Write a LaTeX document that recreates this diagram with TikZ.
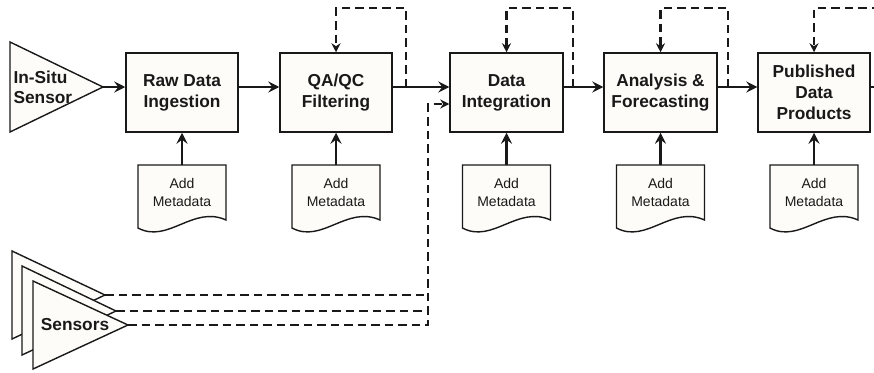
\documentclass[tikz,border=0pt]{standalone}
\usepackage{fontspec}
\setmainfont{Liberation Sans}
\usetikzlibrary{arrows.meta,calc}
\definecolor{paper}{RGB}{253,252,248}
\definecolor{ink}{RGB}{25,25,25}
\tikzset{
	stepbox/.style={draw=ink, fill=paper, line width=1.5pt, minimum width=112pt, minimum height=79pt, align=center, text=ink, font=\fontsize{17.3}{21}\selectfont\bfseries},
	bigtext/.style={text=ink, font=\fontsize{17.3}{20}\selectfont\bfseries},
	doctext/.style={text=ink, align=center, font=\fontsize{14}{18}\selectfont},
	docline/.style={draw=ink, fill=paper, line width=1.4pt},
	sensorshape/.style={draw=ink, fill=paper, line width=1.4pt},
	flowarrow/.style={draw=ink, line width=2.2pt, -{Stealth[length=11pt,width=11pt,inset=4pt]}},
	flowline/.style={draw=ink, line width=2.2pt},
	fbline/.style={draw=ink, line width=2.1pt, dash pattern=on 8.5pt off 5pt},
	fbarrow/.style={fbline, -{Stealth[length=9pt,width=9pt,inset=3pt]}}
}
\def\metadoc(#1)(#2){%
	\draw[docline] (#2-44,165) -- (#2-44,228) .. controls (#2-14,244) and (#2+11,205) .. (#2+44,220) -- (#2+44,165) -- cycle;
	\coordinate (#1-top) at (#2,165);
	\node[doctext] (#1) at (#2,192) {Add\\Metadata};}

\begin{document}
\begin{tikzpicture}[x=1pt, y=-1pt]
		%%%%% START %%%%%
		\useasboundingbox (0,0) rectangle (874,372);
		
		\coordinate (flow) at (0,87);
		\coordinate (top) at (0,8);
		\coordinate (side) at (0,104);
		\coordinate (edge) at (880,0);
		
		\draw[sensorshape] (10,42) -- (103,87) coordinate (is-tip) -- (10,132) -- cycle;
		\node[bigtext, align=left, anchor=west] (insitu) at (10,87) {In-Situ\\Sensor};
		
		\node[stepbox] (raw) at (182,92.5) {Raw Data\\Ingestion};
		\node[stepbox] (qa) at (336,92.5) {QA/QC\\Filtering};
		\node[stepbox, minimum width=113pt] (di) at (506.5,92.5) {Data\\Integration};
		\node[stepbox, minimum width=113pt] (an) at (660.5,92.5) {Analysis \&\\Forecasting};
		\node[stepbox] (pub) at (814,92.5) {Published\\Data\\Products};
		
		\draw[flowarrow] (is-tip) -- (raw.west |- flow);
		\draw[flowarrow] (raw.east |- flow) -- (qa.west |- flow);
		\draw[flowarrow] (qa.east |- flow) -- (di.west |- flow);
		\draw[flowarrow] (di.east |- flow) -- (an.west |- flow);
		\draw[flowarrow] (an.east |- flow) -- (pub.west |- flow);
		\draw[flowline] (pub.east |- flow) -- (edge |- flow);
		
		% loops back over the top
		\coordinate (qa-fb) at (406,87);
		\coordinate (di-fb) at (573,87);
		\coordinate (an-fb) at (728,87);
		\draw[fbarrow] (qa-fb) |- (qa.north |- top) -- (qa.north);
		\draw[fbarrow] (di-fb) |- (di.north |- top) -- (di.north);
		\draw[fbarrow] (an-fb) |- (an.north |- top) -- (an.north);
		\draw[fbarrow] (edge |- top) -| (pub.north);
		
		\metadoc(md-raw)(182)
		\metadoc(md-qa)(336)
		\metadoc(md-di)(506.5)
		\metadoc(md-an)(660.5)
		\metadoc(md-pub)(814)
		
		\draw[flowarrow] (md-raw-top) -- (raw.south);
		\draw[flowarrow] (md-qa-top) -- (qa.south);
		\draw[flowarrow] (md-di-top) -- (di.south);
		\draw[flowarrow] (md-an-top) -- (an.south);
		\draw[flowarrow] (md-pub-top) -- (pub.south);
		
		% stacked sensors
		\draw[sensorshape] (12,251) -- (105,295) coordinate (s1-tip) -- (12,339) -- cycle;
		\draw[sensorshape] (22,266) -- (116,311) coordinate (s2-tip) -- (22,355) -- cycle;
		\draw[sensorshape] (33,281) -- (128,325) coordinate (s3-tip) -- (33,369) -- cycle;
		\node[bigtext] (sensors) at (75,325) {Sensors};
		
		\coordinate (merge) at (428,325);
		\draw[fbline] (s1-tip) -- (s1-tip -| merge);
		\draw[fbline] (s2-tip) -- (s2-tip -| merge);
		\draw[fbarrow] (s3-tip) -- (merge) |- (di.west |- side);
		
		%%%%% END %%%%%
\end{tikzpicture}
\end{document}
